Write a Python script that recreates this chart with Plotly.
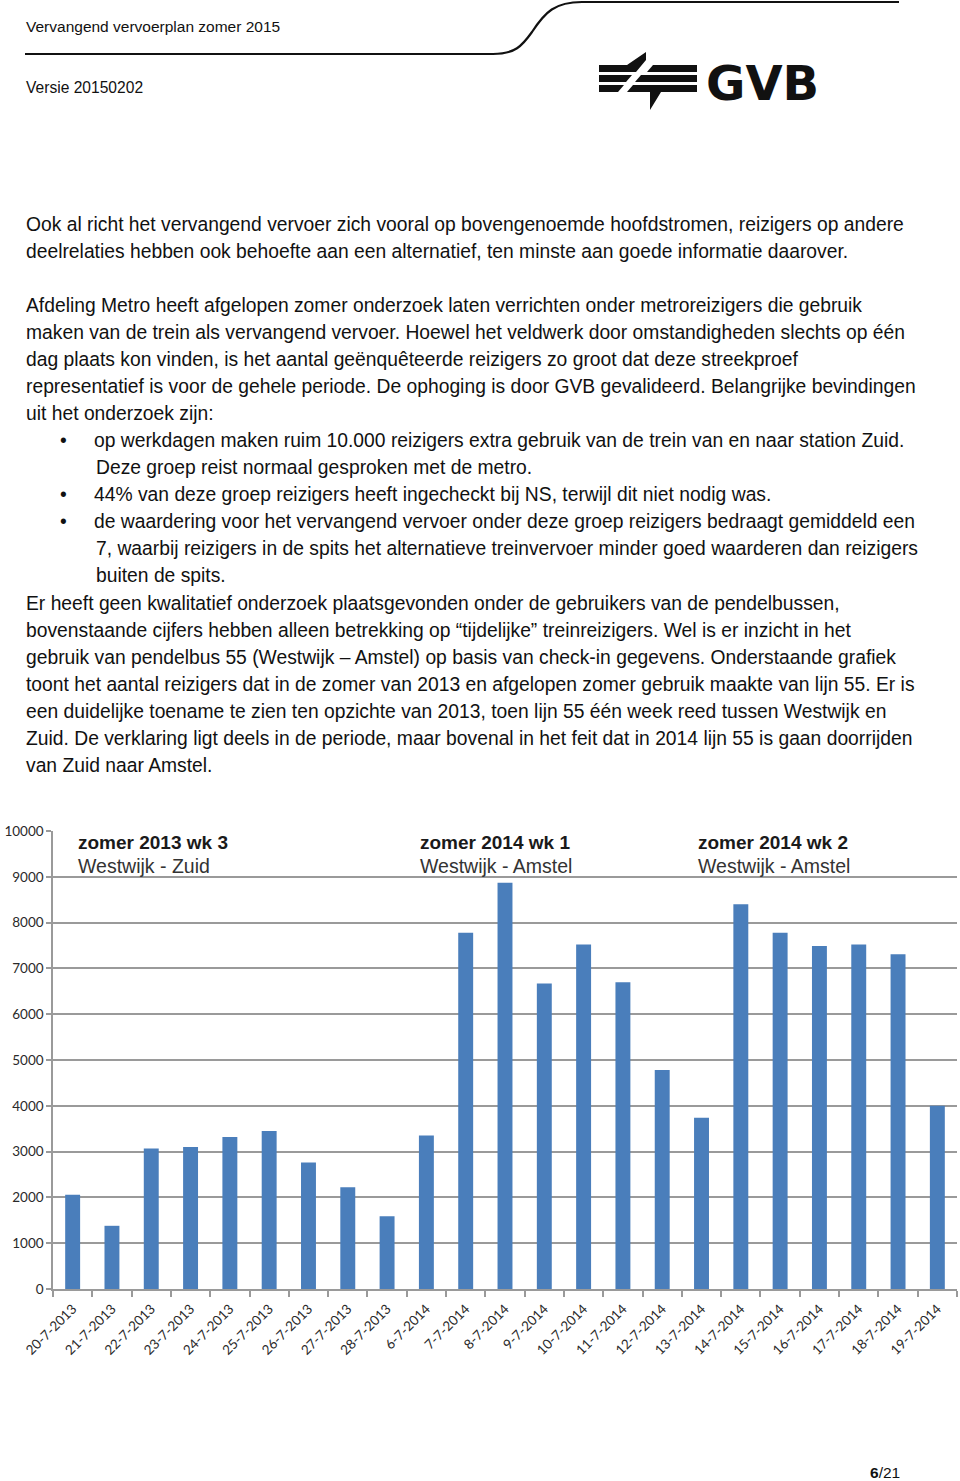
import plotly.graph_objects as go

W, H = 960, 1481

# --- chart data ---
dates = [
    "20-7-2013", "21-7-2013", "22-7-2013", "23-7-2013", "24-7-2013", "25-7-2013",
    "26-7-2013", "27-7-2013", "28-7-2013",
    "6-7-2014", "7-7-2014", "8-7-2014", "9-7-2014", "10-7-2014", "11-7-2014",
    "12-7-2014", "13-7-2014", "14-7-2014", "15-7-2014", "16-7-2014", "17-7-2014",
    "18-7-2014", "19-7-2014",
]
reizigers = [
    2060, 1380, 3070, 3100, 3320, 3450, 2760, 2220, 1590,
    3350, 7780, 8870, 6670, 7520, 6700, 4780, 3740, 8400, 7780, 7490, 7520,
    7310, 4000,
]
y_ticks = list(range(0, 10001, 1000))

period_titles = ["zomer 2013 wk 3", "zomer 2014 wk 1", "zomer 2014 wk 2"]
period_routes = ["Westwijk - Zuid", "Westwijk - Amstel", "Westwijk - Amstel"]
period_x = [77, 419, 697]

# --- page text ---
header_title = "Vervangend vervoerplan zomer 2015"
header_version = "Versie 20150202"

body_lines = [
    (224, 25, "Ook al richt het vervangend vervoer zich vooral op bovengenoemde hoofdstromen, reizigers op andere"),
    (251, 25, "deelrelaties hebben ook behoefte aan een alternatief, ten minste aan goede informatie daarover."),
    (305, 25, "Afdeling Metro heeft afgelopen zomer onderzoek laten verrichten onder metroreizigers die gebruik"),
    (332, 25, "maken van de trein als vervangend vervoer. Hoewel het veldwerk door omstandigheden slechts op één"),
    (359, 25, "dag plaats kon vinden, is het aantal geënquêteerde reizigers zo groot dat deze streekproef"),
    (386, 25, "representatief is voor de gehele periode. De ophoging is door GVB gevalideerd. Belangrijke bevindingen"),
    (413, 25, "uit het onderzoek zijn:"),
    (440, 93, "op werkdagen maken ruim 10.000 reizigers extra gebruik van de trein van en naar station Zuid."),
    (467, 95, "Deze groep reist normaal gesproken met de metro."),
    (494, 93, "44% van deze groep reizigers heeft ingecheckt bij NS, terwijl dit niet nodig was."),
    (521, 93, "de waardering voor het vervangend vervoer onder deze groep reizigers bedraagt gemiddeld een"),
    (548, 95, "7, waarbij reizigers in de spits het alternatieve treinvervoer minder goed waarderen dan reizigers"),
    (575, 95, "buiten de spits."),
    (603, 25, "Er heeft geen kwalitatief onderzoek plaatsgevonden onder de gebruikers van de pendelbussen,"),
    (630, 25, "bovenstaande cijfers hebben alleen betrekking op “tijdelijke” treinreizigers. Wel is er inzicht in het"),
    (657, 25, "gebruik van pendelbus 55 (Westwijk – Amstel) op basis van check-in gegevens. Onderstaande grafiek"),
    (684, 25, "toont het aantal reizigers dat in de zomer van 2013 en afgelopen zomer gebruik maakte van lijn 55. Er is"),
    (711, 25, "een duidelijke toename te zien ten opzichte van 2013, toen lijn 55 één week reed tussen Westwijk en"),
    (738, 25, "Zuid. De verklaring ligt deels in de periode, maar bovenal in het feit dat in 2014 lijn 55 is gaan doorrijden"),
    (765, 25, "van Zuid naar Amstel."),
]
bullet_rows = [440, 494, 521]

TXT = "Liberation Sans"
BAR = "#4a7ebb"
GRID = "#9a9a9a"

fig = go.Figure()
fig.add_trace(go.Bar(
    x=dates, y=reizigers, marker=dict(color=BAR, line=dict(width=0)),
    hovertemplate="%{x}: %{y}<extra></extra>",
))

annotations = []


def txt(x, y, s, size=19.3, bold=False, color="#111", font=TXT, anchor="left"):
    if bold:
        s = "<b>" + s + "</b>"
    annotations.append(dict(
        x=x, y=y, xref="x2", yref="y2", text=s, showarrow=False,
        xanchor=anchor, yanchor="middle", borderpad=0,
        font=dict(family=font, size=size, color=color),
    ))


txt(25, 26, header_title, size=15.5)
txt(25, 87, header_version, size=15.6)
for y, x, s in body_lines:
    txt(x, y, s)
for y in bullet_rows:
    txt(59, y, "•", size=19.3)

for x, t, r in zip(period_x, period_titles, period_routes):
    txt(x, 842, t, size=19, bold=True, color="#1a1a1a")
    txt(x, 866, r, size=19.5, color="#333")

txt(869, 1472, "<b>6</b>/21", size=15.5)

shapes = [
    # header rule with the swoosh
    dict(type="path", xref="x2", yref="y2",
         path="M 25 54 L 493 54 C 515 54, 522 46, 532 32 C 545 12, 555 2, 582 2 L 899 2",
         line=dict(color="#111", width=2.2)),
]

# GVB logo, rough geometry
logo_polys = [
    "M 599 65 L 627 65 L 646 52 L 646 60 L 636 72 L 599 72 Z",
    "M 653 65 L 697 65 L 697 72 L 647 72 Z",
    "M 599 75 L 632 75 L 626 82 L 599 82 Z",
    "M 641 75 L 697 75 L 697 82 L 635 82 Z",
    "M 599 85 L 624 85 L 618 92 L 599 92 Z",
    "M 633 85 L 697 85 L 697 92 L 661 92 L 650 110 L 650 92 L 627 92 Z",
]
for p in logo_polys:
    shapes.append(dict(type="path", xref="x2", yref="y2", path=p,
                       fillcolor="#111", line=dict(width=0)))
txt(762, 83, "GVB", size=48, bold=True, color="#111", font="DejaVu Sans", anchor="center")

fig.update_layout(
    width=W, height=H, autosize=False,
    margin=dict(l=0, r=0, t=0, b=0, autoexpand=False),
    paper_bgcolor="white", plot_bgcolor="rgba(0,0,0,0)",
    showlegend=False, bargap=0.62,
    xaxis=dict(
        domain=[53 / W, 957 / W], type="category", automargin=False,
        showline=True, linecolor=GRID, linewidth=1.5,
        ticks="outside", tickson="boundaries", ticklen=6, tickcolor=GRID, tickwidth=1.5,
        tickangle=-45, ticklabelstandoff=5,
        tickfont=dict(family="Lato", size=13.5, color="#2a2a2a"),
        showgrid=False,
    ),
    yaxis=dict(
        domain=[1 - 1289 / H, 1 - 831 / H], range=[0, 10000],
        automargin=False, tickvals=y_ticks, tickformat="d",
        showline=True, linecolor=GRID, linewidth=1.5,
        ticks="outside", ticklen=5, tickcolor=GRID, tickwidth=1.5,
        showgrid=True, gridcolor=GRID, gridwidth=1.5, zeroline=False,
        tickfont=dict(family="Lato", size=13.5, color="#2a2a2a"),
    ),
    # page-pixel frame for the text and decorations
    xaxis2=dict(domain=[0, 1], range=[0, W], anchor="y2", visible=False,
                fixedrange=True, automargin=False),
    yaxis2=dict(domain=[0, 1], range=[H, 0], anchor="x2", visible=False,
                fixedrange=True, automargin=False),
    annotations=annotations,
    shapes=shapes,
)

# drop the browser's default 8px body margin so the figure fills the page
fig.write_html("out.html", config={"displayModeBar": False},
               post_script="document.body.style.margin='0';")
